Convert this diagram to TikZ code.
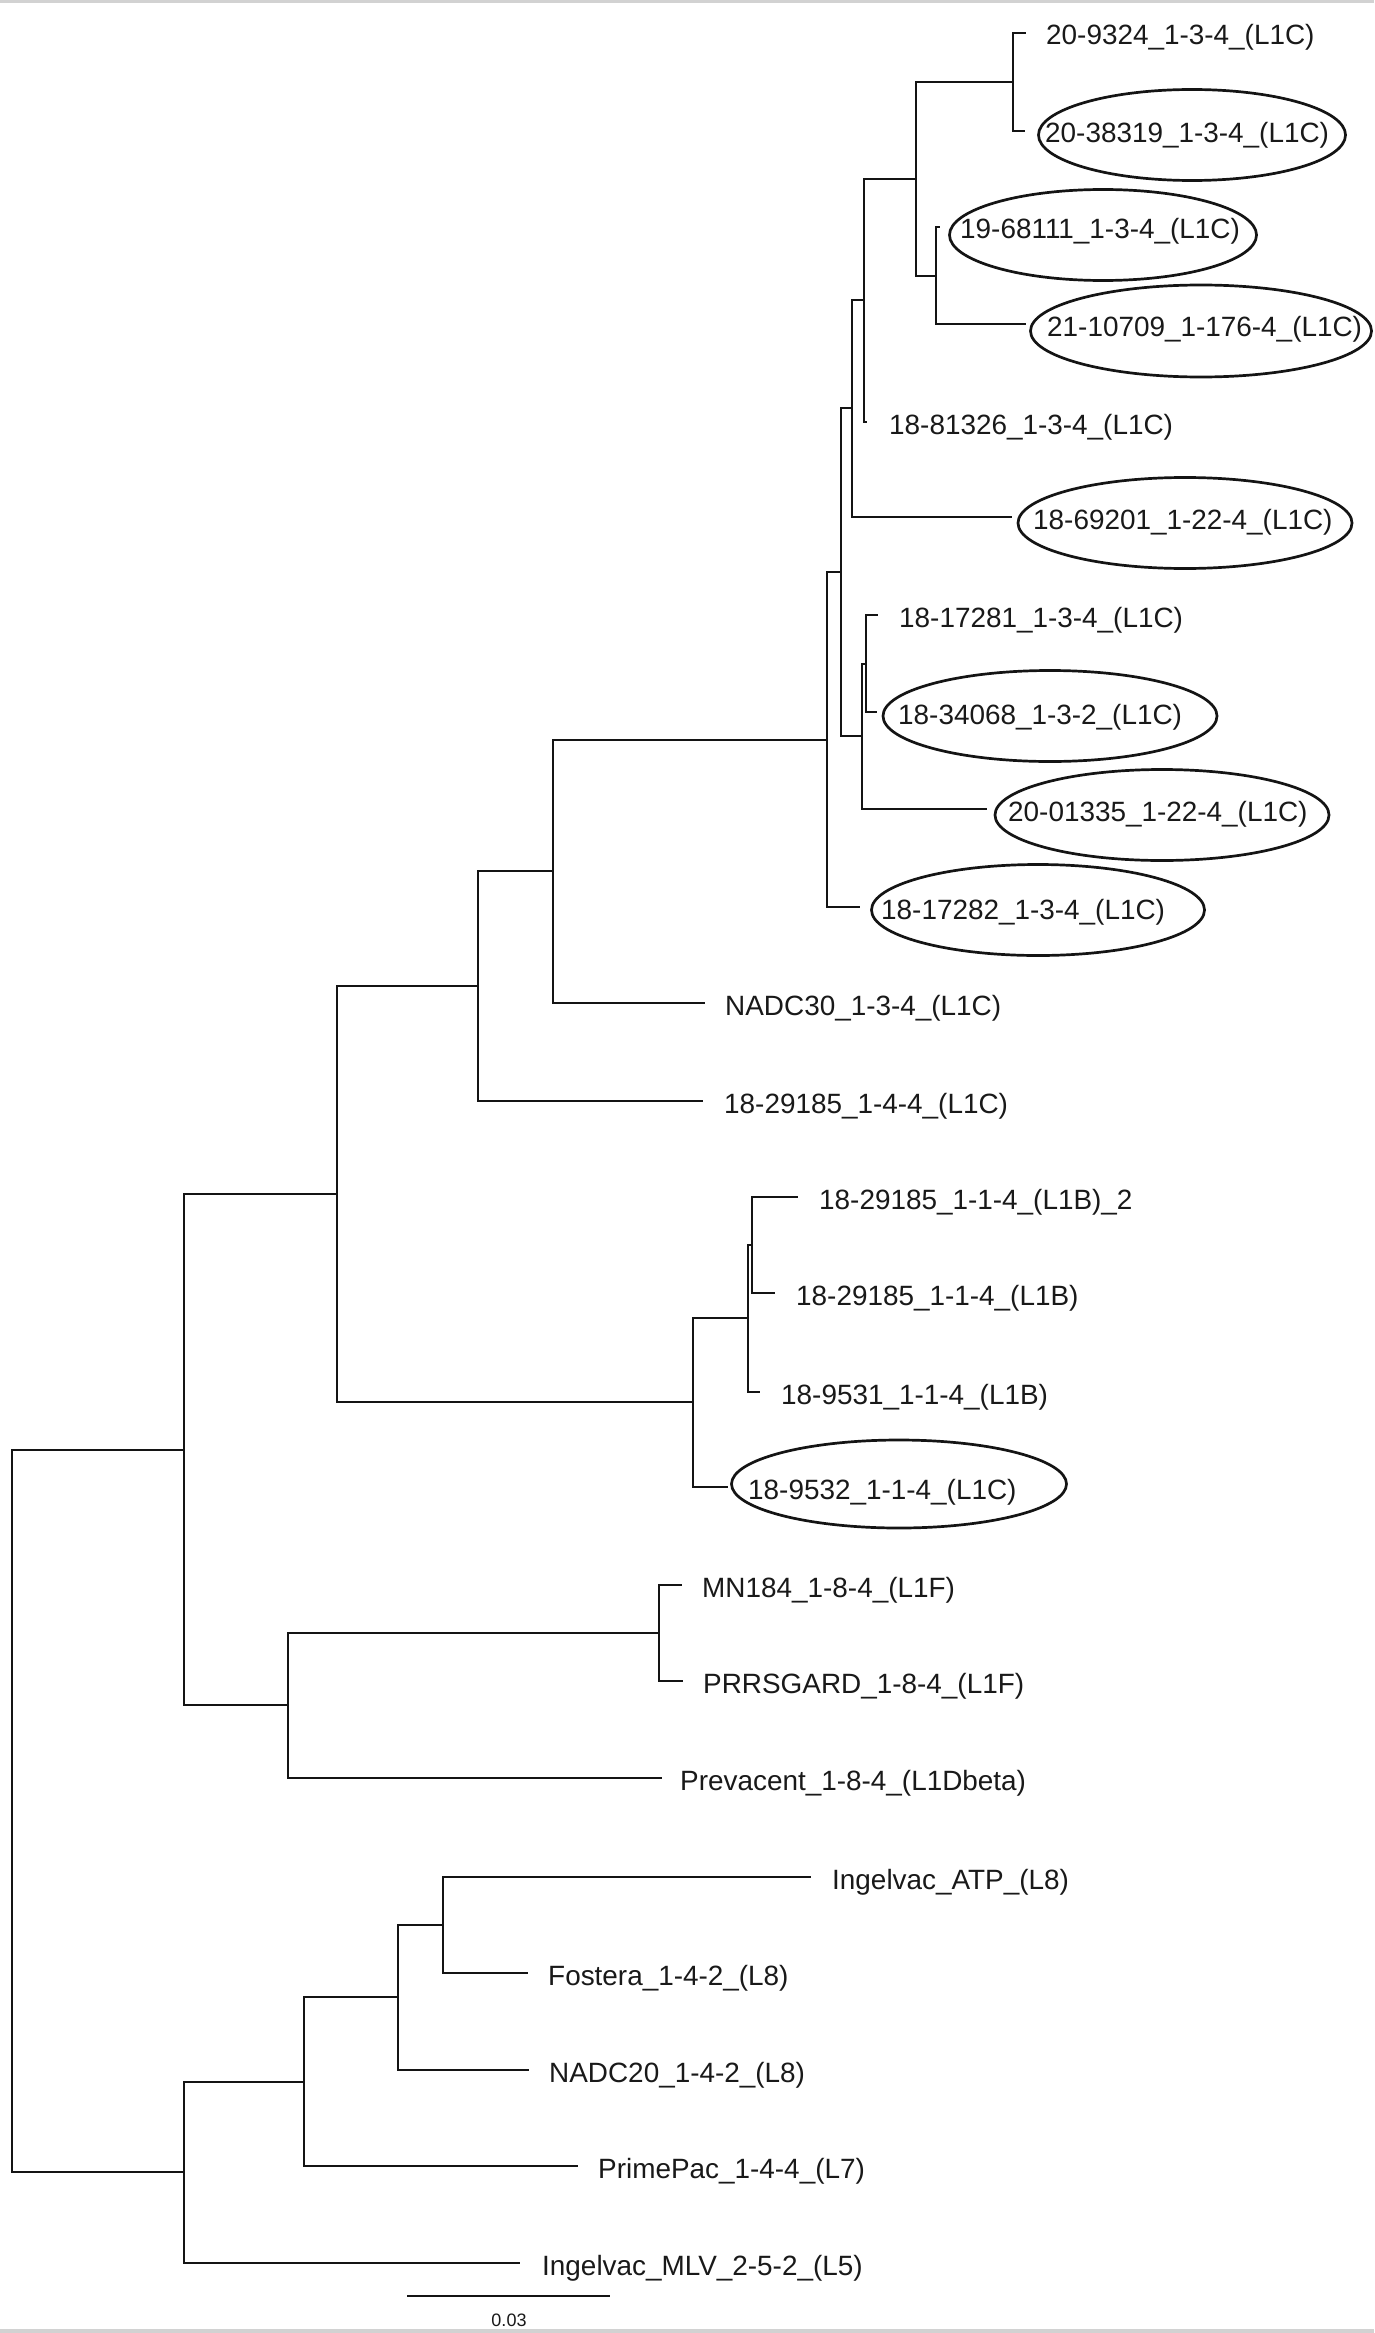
\documentclass[tikz,border=0pt]{standalone}
\usepackage{fontspec}
\setmainfont{Liberation Sans}
\usetikzlibrary{shapes.geometric}
\begin{document}
\begin{tikzpicture}[x=1pt,y=-1pt,
  br/.style={line width=2pt, draw=black!92},
  lab/.style={anchor=base west, inner sep=0pt, font=\fontsize{27.9}{33}\selectfont, text=black!90},
  oval/.style={ellipse, draw=black!92, line width=2.7pt, inner sep=0pt},
  frame/.style={draw=gray!35, line width=3.5pt}]
\useasboundingbox (0,0) rectangle (1374,2333);
\coordinate (fa) at (0,1.5); \coordinate (fb) at (1374,1.5);
\coordinate (fc) at (0,2331); \coordinate (fd) at (1374,2331);
\draw[frame] (fa) -- (fb);
\draw[frame] (fc) -- (fd);

% leaf tips
\coordinate (t1) at (1026,33);
\coordinate (t2) at (1025,131);
\coordinate (t3) at (940,227);
\coordinate (t4) at (1026,324);
\coordinate (t5) at (867,422);
\coordinate (t6) at (1012,517);
\coordinate (t7) at (878,615);
\coordinate (t8) at (877,712);
\coordinate (t9) at (987,809);
\coordinate (t10) at (860,907);
\coordinate (t11) at (705,1003);
\coordinate (t12) at (703,1101);
\coordinate (t13) at (798,1197);
\coordinate (t14) at (775,1293);
\coordinate (t15) at (760,1392);
\coordinate (t16) at (728,1487);
\coordinate (t17) at (682,1585);
\coordinate (t18) at (683,1681);
\coordinate (t19) at (662,1778);
\coordinate (t20) at (811,1877);
\coordinate (t21) at (528,1973);
\coordinate (t22) at (529,2070);
\coordinate (t23) at (578,2166);
\coordinate (t24) at (520,2263);

% internal nodes
\coordinate (nA) at (1013,82);
\coordinate (nB) at (936,276);
\coordinate (nC) at (916,179);
\coordinate (nD) at (864,300);
\coordinate (nE) at (852,408);
\coordinate (nG) at (866,664);
\coordinate (nH) at (862,736);
\coordinate (nF) at (841,572);
\coordinate (nI) at (827,740);
\coordinate (nX) at (553,871);
\coordinate (nJ) at (478,986);
\coordinate (nN) at (752,1245);
\coordinate (nM) at (748,1318);
\coordinate (nL) at (693,1402);
\coordinate (nK) at (337,1194);
\coordinate (nW) at (659,1633);
\coordinate (nS) at (288,1705);
\coordinate (nP) at (184,1450);
\coordinate (nV) at (443,1925);
\coordinate (nU) at (398,1997);
\coordinate (nT) at (304,2082);
\coordinate (nR) at (184,2172);
\coordinate (nroot) at (12,1811);

% branches
\draw[br] (nA) |- (t1);  \draw[br] (nA) |- (t2);
\draw[br] (nB) |- (t3);  \draw[br] (nB) |- (t4);
\draw[br] (nC) |- (nA);  \draw[br] (nC) |- (nB);
\draw[br] (nD) |- (nC);  \draw[br] (nD) |- (t5);
\draw[br] (nE) |- (nD);  \draw[br] (nE) |- (t6);
\draw[br] (nG) |- (t7);  \draw[br] (nG) |- (t8);
\draw[br] (nH) |- (nG);  \draw[br] (nH) |- (t9);
\draw[br] (nF) |- (nE);  \draw[br] (nF) |- (nH);
\draw[br] (nI) |- (nF);  \draw[br] (nI) |- (t10);
\draw[br] (nX) |- (nI);  \draw[br] (nX) |- (t11);
\draw[br] (nJ) |- (nX);  \draw[br] (nJ) |- (t12);
\draw[br] (nN) |- (t13); \draw[br] (nN) |- (t14);
\draw[br] (nM) |- (nN);  \draw[br] (nM) |- (t15);
\draw[br] (nL) |- (nM);  \draw[br] (nL) |- (t16);
\draw[br] (nK) |- (nJ);  \draw[br] (nK) |- (nL);
\draw[br] (nW) |- (t17); \draw[br] (nW) |- (t18);
\draw[br] (nS) |- (nW);  \draw[br] (nS) |- (t19);
\draw[br] (nP) |- (nK);  \draw[br] (nP) |- (nS);
\draw[br] (nV) |- (t20); \draw[br] (nV) |- (t21);
\draw[br] (nU) |- (nV);  \draw[br] (nU) |- (t22);
\draw[br] (nT) |- (nU);  \draw[br] (nT) |- (t23);
\draw[br] (nR) |- (nT);  \draw[br] (nR) |- (t24);
\draw[br] (nroot) |- (nP); \draw[br] (nroot) |- (nR);

% ellipses
\node[oval, minimum width=307pt, minimum height=91pt] (o2) at (1192,135) {};
\node[oval, minimum width=307pt, minimum height=91pt] (o3) at (1103,235) {};
\node[oval, minimum width=341pt, minimum height=92pt] (o4) at (1201,331) {};
\node[oval, minimum width=334pt, minimum height=91pt] (o6) at (1185,523) {};
\node[oval, minimum width=334pt, minimum height=91pt] (o8) at (1050,716) {};
\node[oval, minimum width=334pt, minimum height=91pt] (o9) at (1162,815) {};
\node[oval, minimum width=333pt, minimum height=91pt] (o10) at (1038,910) {};
\node[oval, minimum width=335pt, minimum height=88pt] (o16) at (899,1484) {};

% labels
\node[lab] (l1) at (1046,45) {20-9324\_1-3-4\_(L1C)};
\node[lab] (l2) at (1045,143) {20-38319\_1-3-4\_(L1C)};
\node[lab] (l3) at (960,239) {19-68111\_1-3-4\_(L1C)};
\node[lab] (l4) at (1047,336) {21-10709\_1-176-4\_(L1C)};
\node[lab] (l5) at (889,434) {18-81326\_1-3-4\_(L1C)};
\node[lab] (l6) at (1033,529) {18-69201\_1-22-4\_(L1C)};
\node[lab] (l7) at (899,627) {18-17281\_1-3-4\_(L1C)};
\node[lab] (l8) at (898,724) {18-34068\_1-3-2\_(L1C)};
\node[lab] (l9) at (1008,821) {20-01335\_1-22-4\_(L1C)};
\node[lab] (l10) at (881,919) {18-17282\_1-3-4\_(L1C)};
\node[lab] (l11) at (725,1015) {NADC30\_1-3-4\_(L1C)};
\node[lab] (l12) at (724,1113) {18-29185\_1-4-4\_(L1C)};
\node[lab] (l13) at (819,1209) {18-29185\_1-1-4\_(L1B)\_2};
\node[lab] (l14) at (796,1305) {18-29185\_1-1-4\_(L1B)};
\node[lab] (l15) at (781,1404) {18-9531\_1-1-4\_(L1B)};
\node[lab] (l16) at (748,1499) {18-9532\_1-1-4\_(L1C)};
\node[lab] (l17) at (702,1597) {MN184\_1-8-4\_(L1F)};
\node[lab] (l18) at (703,1693) {PRRSGARD\_1-8-4\_(L1F)};
\node[lab] (l19) at (680,1790) {Prevacent\_1-8-4\_(L1Dbeta)};
\node[lab] (l20) at (832,1889) {Ingelvac\_ATP\_(L8)};
\node[lab] (l21) at (548,1985) {Fostera\_1-4-2\_(L8)};
\node[lab] (l22) at (549,2082) {NADC20\_1-4-2\_(L8)};
\node[lab] (l23) at (598,2178) {PrimePac\_1-4-4\_(L7)};
\node[lab] (l24) at (542,2275) {Ingelvac\_MLV\_2-5-2\_(L5)};

% scale bar
\coordinate (sb1) at (407,2296);
\coordinate (sb2) at (610,2296);
\draw[br] (sb1) -- (sb2);
\node[anchor=base, inner sep=0pt, font=\fontsize{18}{20}\selectfont, text=black!90] (sbl) at (509,2326) {0.03};
\end{tikzpicture}
\end{document}
